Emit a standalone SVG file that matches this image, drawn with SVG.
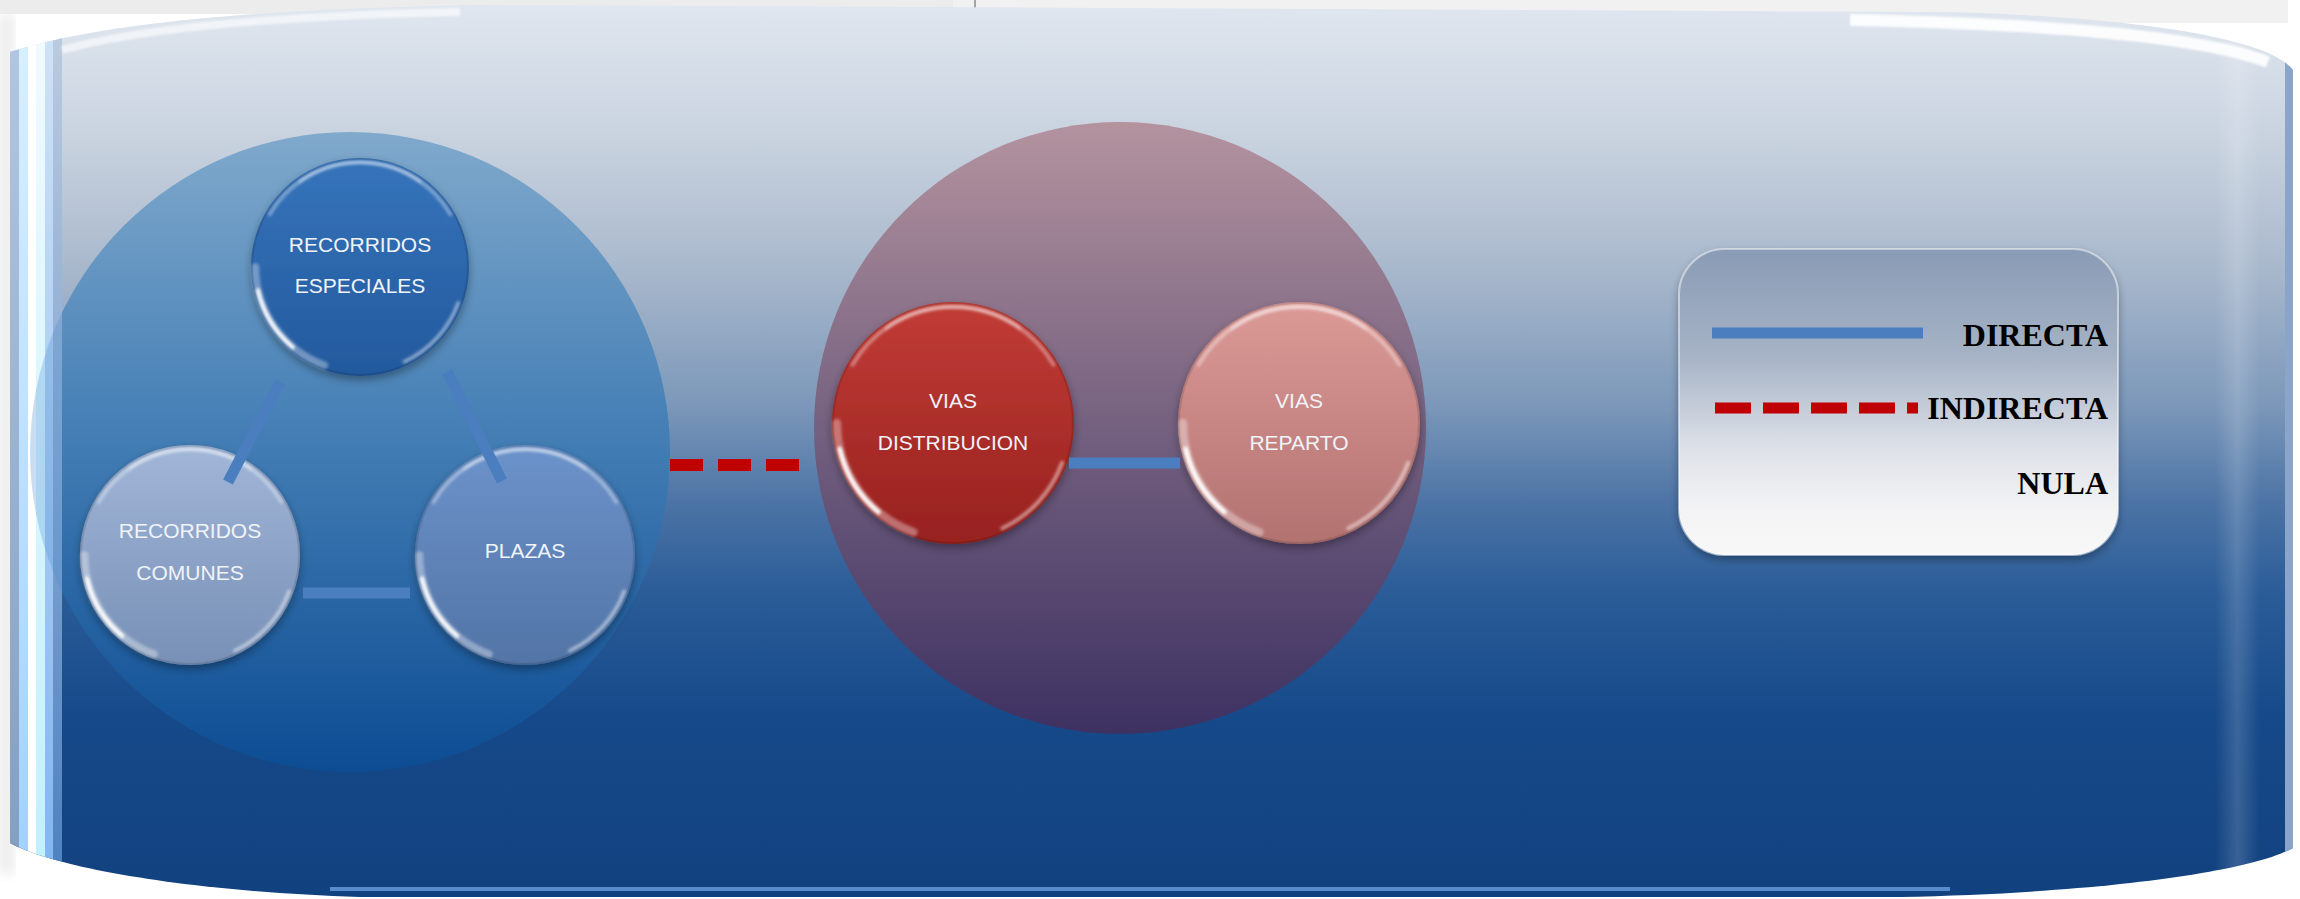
<svg xmlns="http://www.w3.org/2000/svg" xmlns:xlink="http://www.w3.org/1999/xlink" width="2300" height="899" viewBox="0 0 2300 899">
  <style>
    .nt { font-family: "Liberation Sans", Arial, sans-serif; font-size: 21px; fill: #f0f3f8; text-anchor: middle; }
    .lg { font-family: "Liberation Serif", "Times New Roman", serif; font-weight: bold; font-size: 32px; fill: #000; text-anchor: end; }
    .direct { stroke: #4a7ebf; stroke-width: 11; fill: none; }
    .indirect { stroke: #c00000; stroke-width: 12; fill: none; stroke-dasharray: 33 15; }
    .glossWide { stroke: #fff; stroke-width: 7; opacity: 0.35; fill: none; stroke-linecap: round; }
    .glossCore { stroke: #fff; stroke-width: 4; opacity: 0.95; fill: none; stroke-linecap: round; }
    .glossThin { stroke: #fff; stroke-width: 3; opacity: 0.5; fill: none; stroke-linecap: round; }
    .glossTop { stroke: #fff; stroke-width: 3; opacity: 0.4; fill: none; stroke-linecap: round; }
    .rim { fill: none; stroke: #000; stroke-opacity: 0.12; stroke-width: 2; }
  </style>
  <defs>
    <linearGradient id="panelFill" gradientUnits="userSpaceOnUse" x1="0" y1="8" x2="0" y2="895">
      <stop offset="0" stop-color="#dfe6ef"/>
      <stop offset="0.15" stop-color="#c8d2df"/>
      <stop offset="0.3" stop-color="#a7b7cb"/>
      <stop offset="0.45" stop-color="#7b97b9"/>
      <stop offset="0.56" stop-color="#4b73a5"/>
      <stop offset="0.66" stop-color="#2a5c98"/>
      <stop offset="0.8" stop-color="#164989"/>
      <stop offset="1" stop-color="#12417f"/>
    </linearGradient>
    <!-- edge stripe gradients, top colour to bottom colour -->
    <linearGradient id="s1" x1="0" y1="0" x2="0" y2="1"><stop offset="0" stop-color="#b4c8e2"/><stop offset="1" stop-color="#809dc0"/></linearGradient>
    <linearGradient id="s2" x1="0" y1="0" x2="0" y2="1"><stop offset="0" stop-color="#daf1ff"/><stop offset="1" stop-color="#9fd0ff"/></linearGradient>
    <linearGradient id="s4" x1="0" y1="0" x2="0" y2="1"><stop offset="0" stop-color="#f2fbff"/><stop offset="1" stop-color="#c0f0ff"/></linearGradient>
    <linearGradient id="s5" x1="0" y1="0" x2="0" y2="1"><stop offset="0" stop-color="#d2e4f7"/><stop offset="1" stop-color="#80b4f0"/></linearGradient>
    <linearGradient id="s6" x1="0" y1="0" x2="0" y2="1"><stop offset="0" stop-color="#c0cee0"/><stop offset="1" stop-color="#4a7fc0"/></linearGradient>
    <linearGradient id="rightBand" x1="0" y1="0" x2="1" y2="0">
      <stop offset="0" stop-color="#ffffff" stop-opacity="0"/>
      <stop offset="0.5" stop-color="#ffffff" stop-opacity="0.16"/>
      <stop offset="1" stop-color="#ffffff" stop-opacity="0"/>
    </linearGradient>
    <linearGradient id="bigLeft" gradientUnits="userSpaceOnUse" x1="0" y1="132" x2="0" y2="772">
      <stop offset="0" stop-color="#80a9cc"/>
      <stop offset="0.45" stop-color="#4680b6"/>
      <stop offset="1" stop-color="#0c4c93"/>
    </linearGradient>
    <linearGradient id="bigRight" gradientUnits="userSpaceOnUse" x1="0" y1="122" x2="0" y2="734">
      <stop offset="0" stop-color="#b4939f"/>
      <stop offset="0.5" stop-color="#74607f"/>
      <stop offset="1" stop-color="#3d3162"/>
    </linearGradient>
    <linearGradient id="gEsp" x1="0" y1="0" x2="0" y2="1">
      <stop offset="0" stop-color="#3674bb"/>
      <stop offset="1" stop-color="#23599d"/>
    </linearGradient>
    <linearGradient id="gCom" x1="0" y1="0" x2="0" y2="1">
      <stop offset="0" stop-color="#a1b6d8"/>
      <stop offset="1" stop-color="#7890b6"/>
    </linearGradient>
    <linearGradient id="gPla" x1="0" y1="0" x2="0" y2="1">
      <stop offset="0" stop-color="#6c93cb"/>
      <stop offset="1" stop-color="#5274a6"/>
    </linearGradient>
    <linearGradient id="gDis" x1="0" y1="0" x2="0" y2="1">
      <stop offset="0" stop-color="#c23c36"/>
      <stop offset="1" stop-color="#97211f"/>
    </linearGradient>
    <linearGradient id="gRep" x1="0" y1="0" x2="0" y2="1">
      <stop offset="0" stop-color="#dc9a97"/>
      <stop offset="1" stop-color="#b27270"/>
    </linearGradient>
    <linearGradient id="legendFill" x1="0" y1="0" x2="0" y2="1">
      <stop offset="0" stop-color="#899bb5"/>
      <stop offset="0.35" stop-color="#a6b3c6"/>
      <stop offset="0.65" stop-color="#dde1e8"/>
      <stop offset="0.85" stop-color="#f3f3f5"/>
      <stop offset="1" stop-color="#f8f8f8"/>
    </linearGradient>
    <filter id="shadow" x="-20%" y="-20%" width="140%" height="150%">
      <feDropShadow dx="0" dy="4" stdDeviation="4" flood-color="#000" flood-opacity="0.35"/>
    </filter>
    <filter id="soft" x="-20%" y="-20%" width="140%" height="140%">
      <feGaussianBlur stdDeviation="1.3"/>
    </filter>
    <filter id="haze" x="-10%" y="-10%" width="120%" height="120%">
      <feGaussianBlur stdDeviation="6"/>
    </filter>
    <clipPath id="panelClip">
      <path d="M 10,52 C 80,30 200,10 480,5 L 1950,12 C 2150,18 2270,40 2293,70 L 2293,848 C 2250,872 2100,893 1900,897 L 360,897 C 200,892 60,870 10,843 Z"/>
    </clipPath>
    <clipPath id="innerClip">
      <rect x="62" y="0" width="2240" height="899"/>
    </clipPath>
    <clipPath id="stripClip">
      <rect x="10" y="0" width="52" height="899"/>
    </clipPath>
    <!-- glassy highlight set for a disc of radius 100 -->
    <g id="gloss" filter="url(#soft)">
      <path class="glossWide" d="M -32.8,90.2 A 96 96 0 0 1 -96,0"/>
      <path class="glossCore" d="M -61.7,73.5 A 96 96 0 0 1 -93.6,21.4"/>
      <path class="glossThin" d="M 90.2,32.8 A 96 96 0 0 1 40.6,87"/>
      <path class="glossTop" d="M -83.1,-48 A 96 96 0 0 1 83.1,-48"/>
      <path class="glossTop" d="M -55.1,-78.6 A 96 96 0 0 1 55.1,-78.6"/>
    </g>
  </defs>

  <!-- page strips above the panel -->
  <rect x="0" y="0" width="953" height="14" fill="#ececec"/>
  <rect x="953" y="0" width="1335" height="23" fill="#f1f1f1"/>
  <line x1="975" y1="0" x2="975" y2="13" stroke="#8a8a8a" stroke-width="1.5"/>
  <rect x="0" y="14" width="14" height="860" fill="#ebebeb" filter="url(#haze)"/>

  <!-- main panel -->
  <g id="panel">
    <path d="M 10,52 C 80,30 200,10 480,5 L 1950,12 C 2150,18 2270,40 2293,70 L 2293,848 C 2250,872 2100,893 1900,897 L 360,897 C 200,892 60,870 10,843 Z" fill="url(#panelFill)"/>
    <g clip-path="url(#panelClip)">
      <rect x="10" y="0" width="9" height="899" fill="url(#s1)"/>
      <rect x="19" y="0" width="9" height="899" fill="url(#s2)"/>
      <rect x="28" y="0" width="8" height="899" fill="#ffffff"/>
      <rect x="36" y="0" width="9" height="899" fill="url(#s4)"/>
      <rect x="45" y="0" width="8" height="899" fill="url(#s5)"/>
      <rect x="53" y="0" width="9" height="899" fill="url(#s6)"/>
      <rect x="2215" y="0" width="45" height="899" fill="url(#rightBand)"/>
      <rect x="2285" y="0" width="8" height="899" fill="#8aa5c8"/>
      <path d="M 1850,20 C 2050,24 2200,36 2268,62" stroke="#ffffff" stroke-width="12" fill="none" opacity="0.9" filter="url(#soft)"/>
      <path d="M 62,50 C 140,28 270,16 460,12" stroke="#ffffff" stroke-width="8" fill="none" opacity="0.6" filter="url(#soft)"/>
      <line x1="330" y1="889" x2="1950" y2="889" stroke="#6a9ee0" stroke-width="4" opacity="0.8"/>
    </g>
  </g>

  <!-- group backdrops -->
  <g id="zone-left">
    <circle cx="350" cy="452" r="320" fill="url(#bigLeft)" clip-path="url(#innerClip)"/>
    <circle cx="350" cy="452" r="320" fill="#4f8fd0" opacity="0.3" clip-path="url(#stripClip)"/>
  </g>
  <circle id="zone-right" cx="1120" cy="428" r="306" fill="url(#bigRight)"/>

  <!-- nodes -->
  <g id="node-recorridos-especiales" transform="translate(360,267)">
    <circle r="109" fill="url(#gEsp)" filter="url(#shadow)"/>
    <circle class="rim" r="108"/>
    <use xlink:href="#gloss" transform="scale(1.09)"/>
    <text class="nt" x="0" y="-15">RECORRIDOS</text>
    <text class="nt" x="0" y="26">ESPECIALES</text>
  </g>

  <g id="node-recorridos-comunes" transform="translate(190,555)">
    <circle r="110" fill="url(#gCom)" filter="url(#shadow)"/>
    <circle class="rim" r="109"/>
    <use xlink:href="#gloss" transform="scale(1.1)"/>
    <text class="nt" x="0" y="-17">RECORRIDOS</text>
    <text class="nt" x="0" y="25">COMUNES</text>
  </g>

  <g id="node-plazas" transform="translate(525,555)">
    <circle r="110" fill="url(#gPla)" filter="url(#shadow)"/>
    <circle class="rim" r="109"/>
    <use xlink:href="#gloss" transform="scale(1.1)"/>
    <text class="nt" x="0" y="3">PLAZAS</text>
  </g>

  <g id="node-vias-distribucion" transform="translate(953,423)">
    <circle r="121" fill="url(#gDis)" filter="url(#shadow)"/>
    <circle class="rim" r="120"/>
    <use xlink:href="#gloss" transform="scale(1.21)"/>
    <text class="nt" x="0" y="-15">VIAS</text>
    <text class="nt" x="0" y="27">DISTRIBUCION</text>
  </g>

  <g id="node-vias-reparto" transform="translate(1299,423)">
    <circle r="121" fill="url(#gRep)" filter="url(#shadow)"/>
    <circle class="rim" r="120"/>
    <use xlink:href="#gloss" transform="scale(1.21)"/>
    <text class="nt" x="0" y="-15">VIAS</text>
    <text class="nt" x="0" y="27">REPARTO</text>
  </g>

  <!-- connectors -->
  <g id="connectors">
    <line class="direct" x1="280" y1="382" x2="228" y2="482"/>
    <line class="direct" x1="447" y1="372" x2="502" y2="481"/>
    <line class="direct" x1="303" y1="593" x2="410" y2="593"/>
    <line class="direct" x1="1069" y1="463" x2="1180" y2="463"/>
    <line class="indirect" x1="670" y1="465" x2="802" y2="465"/>
  </g>

  <!-- legend -->
  <g id="legend">
    <rect x="1679" y="249" width="439" height="306" rx="46" ry="46" fill="url(#legendFill)" stroke="#ffffff" stroke-opacity="0.45" stroke-width="2" filter="url(#shadow)"/>
    <line class="direct" x1="1712" y1="333" x2="1923" y2="333"/>
    <line x1="1715" y1="408" x2="1918" y2="408" stroke="#c00000" stroke-width="11" stroke-dasharray="36 12"/>
    <text class="lg" x="2108" y="346">DIRECTA</text>
    <text class="lg" x="2108" y="419">INDIRECTA</text>
    <text class="lg" x="2108" y="494">NULA</text>
  </g>
</svg>
